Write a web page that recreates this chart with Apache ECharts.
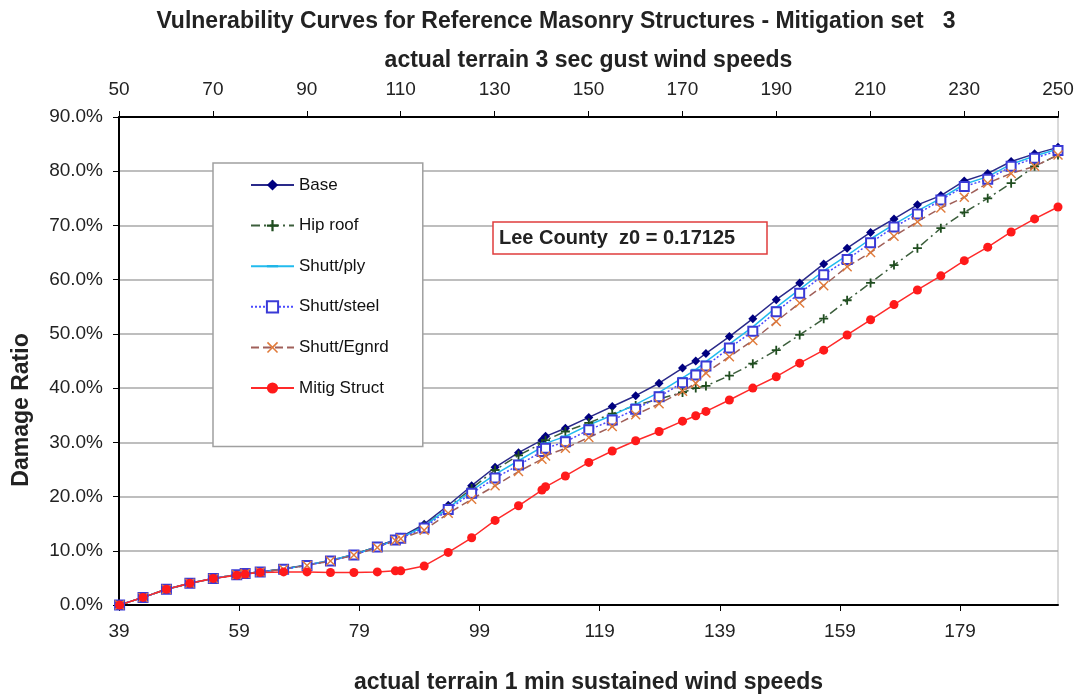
<!DOCTYPE html>
<html>
<head>
<meta charset="utf-8">
<script src="https://cdn.jsdelivr.net/npm/echarts@6/dist/echarts.min.js"></script>
<style>html,body{margin:0;padding:0;background:#fff}#c{width:1081px;height:698px}</style>
</head>
<body>
<div id="c"></div>
<script>
// 1-min sustained wind speeds (x values of all points)
const sustained = [39.1, 43.0, 46.9, 50.8, 54.7, 58.6, 60.0, 62.5, 66.4, 70.3, 74.2, 78.1, 82.0, 85.0, 85.9, 89.8, 93.8, 97.7, 101.6, 105.5, 109.4, 110.0, 113.3, 117.2, 121.1, 125.0, 128.9, 132.8, 135.0, 136.7, 140.6, 144.5, 148.4, 152.3, 156.3, 160.2, 164.1, 168.0, 171.9, 175.8, 179.7, 183.6, 187.5, 191.4, 195.3];
// damage ratio, percent
const base = [0.0, 1.4, 2.9, 4.0, 4.9, 5.6, 5.8, 6.1, 6.7, 7.4, 8.2, 9.3, 10.8, 12.1, 12.5, 14.9, 18.4, 22.0, 25.4, 28.1, 30.4, 31.1, 32.6, 34.6, 36.6, 38.6, 40.9, 43.7, 45.0, 46.4, 49.5, 52.8, 56.3, 59.4, 62.9, 65.8, 68.7, 71.2, 73.8, 75.5, 78.2, 79.6, 81.8, 83.2, 84.4];
const hipRoof = [0.0, 1.4, 2.9, 4.0, 4.9, 5.6, 5.8, 6.1, 6.6, 7.4, 8.2, 9.3, 10.8, 12.1, 12.4, 14.6, 18.0, 21.5, 24.9, 27.6, 29.8, 30.4, 32.0, 33.6, 35.3, 36.8, 38.0, 39.2, 40.0, 40.4, 42.3, 44.5, 47.0, 49.8, 52.8, 56.2, 59.4, 62.7, 65.8, 69.5, 72.4, 75.0, 77.8, 80.9, 83.0];
const shuttPly = [0.0, 1.4, 2.9, 4.0, 4.9, 5.6, 5.8, 6.1, 6.6, 7.4, 8.2, 9.3, 10.7, 12.0, 12.4, 14.5, 17.9, 21.1, 24.1, 26.6, 29.1, 29.8, 31.1, 33.2, 35.0, 37.0, 39.2, 41.9, 43.4, 44.9, 48.1, 51.3, 54.9, 58.2, 61.6, 64.5, 67.5, 70.2, 72.7, 75.0, 77.6, 79.0, 81.3, 82.8, 84.1];
const shuttSteel = [0.0, 1.4, 2.9, 4.0, 4.9, 5.6, 5.8, 6.1, 6.6, 7.3, 8.1, 9.2, 10.7, 12.0, 12.3, 14.2, 17.6, 20.6, 23.4, 25.8, 28.3, 28.9, 30.1, 32.3, 34.1, 36.1, 38.4, 41.0, 42.4, 44.1, 47.4, 50.5, 54.1, 57.5, 60.9, 63.7, 66.8, 69.7, 72.1, 74.7, 77.2, 78.5, 80.9, 82.4, 83.8];
const shuttEgnrd = [0.0, 1.4, 2.9, 4.0, 4.9, 5.6, 5.8, 6.1, 6.6, 7.3, 8.1, 9.2, 10.6, 11.9, 12.2, 13.8, 16.9, 19.5, 22.0, 24.6, 26.9, 27.5, 28.9, 30.9, 32.9, 35.1, 37.1, 39.4, 40.9, 42.8, 45.8, 48.8, 52.3, 55.7, 58.9, 62.4, 65.0, 68.0, 70.7, 73.2, 75.2, 77.8, 79.6, 80.9, 83.0];
const mitigStruct = [0.0, 1.4, 2.9, 4.0, 4.9, 5.5, 5.7, 6.0, 6.1, 6.1, 6.0, 6.0, 6.1, 6.3, 6.3, 7.2, 9.7, 12.4, 15.6, 18.3, 21.2, 21.8, 23.8, 26.3, 28.4, 30.3, 32.0, 33.9, 34.9, 35.7, 37.8, 40.0, 42.1, 44.6, 47.0, 49.8, 52.6, 55.4, 58.1, 60.7, 63.5, 66.0, 68.8, 71.2, 73.4];
const seriesNames = ['Base', 'Hip roof', 'Shutt/ply', 'Shutt/steel', 'Shutt/Egnrd', 'Mitig Struct'];

const FONT = 'Liberation Sans, Arial, sans-serif';
const pair = ys => sustained.map((x, i) => [x, ys[i]]);
const PLUS = 'path://M4,0 H6 V4 H10 V6 H6 V10 H4 V6 H0 V4 H4 Z';
const CROSS = 'path://M1,0 L5,4 L9,0 L10,1 L6,5 L10,9 L9,10 L5,6 L1,10 L0,9 L4,5 L0,1 Z';
const DASH = 'path://M0,0 L0,0 M10,10 L10,10 M0,4 H10 V6 H0 Z';

const chart = echarts.init(document.getElementById('c'), null, {renderer: 'canvas'});
chart.setOption({
  animation: false,
  backgroundColor: '#fff',
  title: {
    text: 'Vulnerability Curves for Reference Masonry Structures - Mitigation set   3',
    left: 551, top: 5, textAlign: 'center',
    textStyle: {fontFamily: FONT, fontSize: 23, fontWeight: 'bold', color: '#222'}
  },
  grid: {left: 119, right: 23, top: 117, bottom: 93, outerBoundsMode: 'none', containLabel: false,
         show: true, borderColor: '#b4b4b4', borderWidth: 1},
  legend: {
    orient: 'vertical', left: 213, top: 163,
    backgroundColor: '#fff', borderColor: '#a0a0a0', borderWidth: 1.5,
    padding: [13.5, 34, 50, 37], itemWidth: 43, itemHeight: 14, itemGap: 23.6,
    textStyle: {fontFamily: FONT, fontSize: 17, color: '#111'},
    data: seriesNames
  },
  xAxis: [
    {
      type: 'value', position: 'bottom', min: 39, max: 195.3, interval: 20,
      name: 'actual terrain 1 min sustained wind speeds', nameLocation: 'middle', nameGap: 66,
      nameTextStyle: {fontFamily: FONT, fontSize: 23, fontWeight: 'bold', color: '#222'},
      axisLine: {lineStyle: {color: '#000', width: 2}},
      axisTick: {length: 6, lineStyle: {color: '#000'}},
      axisLabel: {fontFamily: FONT, fontSize: 19, color: '#222', margin: 17, showMaxLabel: false},
      splitLine: {show: false}
    },
    {
      type: 'value', position: 'top', min: 50, max: 250, interval: 20,
      name: 'actual terrain 3 sec gust wind speeds', nameLocation: 'middle', nameGap: 45,
      nameTextStyle: {fontFamily: FONT, fontSize: 23, fontWeight: 'bold', color: '#222'},
      axisLine: {lineStyle: {color: '#000', width: 2}},
      axisTick: {length: 6, lineStyle: {color: '#000'}},
      axisLabel: {fontFamily: FONT, fontSize: 19, color: '#222', margin: 18},
      splitLine: {show: false}
    }
  ],
  yAxis: {
    type: 'value', min: 0, max: 90, interval: 10,
    axisLine: {show: true, lineStyle: {color: '#000', width: 2}},
    axisTick: {show: true, length: 6, lineStyle: {color: '#000'}},
    axisLabel: {fontFamily: FONT, fontSize: 19, color: '#222', margin: 16, formatter: v => v.toFixed(1) + '%'},
    splitLine: {lineStyle: {color: '#a8a8a8', width: 1.5}}
  },
  graphic: [
    {type: 'text', x: 22, y: 410, rotation: Math.PI / 2, z: 10,
     style: {text: 'Damage Ratio', fontFamily: FONT, fontSize: 23, fontWeight: 'bold', fill: '#222', textAlign: 'center', textVerticalAlign: 'middle'}},
    {type: 'rect', shape: {x: 493, y: 222, width: 274, height: 32}, z: 10,
     style: {fill: '#fff', stroke: '#e03c3c', lineWidth: 1.5}},
    {type: 'text', x: 499, y: 238, z: 11,
     style: {text: 'Lee County  z0 = 0.17125', fontFamily: FONT, fontSize: 20, fontWeight: 'bold', fill: '#222', textVerticalAlign: 'middle'}}
  ],
  series: [
    {name: 'Base', type: 'line', xAxisIndex: 0, data: pair(base),
     symbol: 'diamond', symbolSize: 9, color: '#0a0a80',
     lineStyle: {color: '#2a2a8a', width: 1.5}, itemStyle: {color: '#000080'}},
    {name: 'Hip roof', type: 'line', xAxisIndex: 0, data: pair(hipRoof),
     symbol: PLUS, symbolSize: 9, color: '#2f5a2f',
     lineStyle: {color: '#3c5e3c', width: 1.5, type: [9, 4, 2, 4]}, itemStyle: {color: '#1f4d1f'}},
    {name: 'Shutt/ply', type: 'line', xAxisIndex: 0, data: pair(shuttPly),
     symbol: DASH, symbolSize: 9, color: '#1eb4e6',
     lineStyle: {color: '#22bbee', width: 1.5}, itemStyle: {color: '#1eb4e6'}},
    {name: 'Shutt/steel', type: 'line', xAxisIndex: 0, data: pair(shuttSteel),
     symbol: 'emptyRect', symbolSize: 9, color: '#3a3ad6',
     lineStyle: {color: '#4b4bff', width: 1.5, type: [2, 2]}, itemStyle: {color: '#3a3ad6', borderWidth: 1.3}},
    {name: 'Shutt/Egnrd', type: 'line', xAxisIndex: 0, data: pair(shuttEgnrd),
     symbol: CROSS, symbolSize: 10, color: '#e07a3a',
     lineStyle: {color: '#a0605a', width: 1.5, type: [8, 4]}, itemStyle: {color: '#e07a3a'}},
    {name: 'Mitig Struct', type: 'line', xAxisIndex: 0, data: pair(mitigStruct),
     symbol: 'circle', symbolSize: 9, color: '#ff1a1a',
     lineStyle: {color: '#ff2a2a', width: 1.5}, itemStyle: {color: '#ff1a1a'}}
  ]
});
</script>
</body>
</html>
